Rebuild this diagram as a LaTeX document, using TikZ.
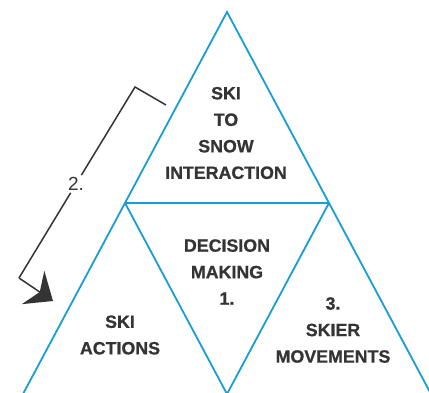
\documentclass[tikz,border=0pt]{standalone}
\usepackage{fontspec}
\setmainfont{Liberation Sans}[BoldFeatures={FakeBold=0.8}]
\usetikzlibrary{arrows.meta}

\definecolor{lineblue}{RGB}{25,157,212}
\definecolor{textgrey}{RGB}{52,52,52}

\tikzset{
  edge/.style={draw=lineblue,line width=1.8pt},
  bracket/.style={draw=textgrey,line width=1.5pt},
  label/.style={align=center,text=textgrey,font=\bfseries\fontsize{17.8}{26.5}\selectfont,inner sep=0pt}
}

\begin{document}
\begin{tikzpicture}[x=1pt,y=-1pt]
\useasboundingbox (0,0) rectangle (429,393);
\clip (0,0) rectangle (429,393);

\coordinate (apex) at (227,12);
\coordinate (midl) at (125,203);
\coordinate (midr) at (329,203);
\coordinate (botl) at (23,394);
\coordinate (botm) at (227,394);
\coordinate (botr) at (431,394);

\draw[edge] (botl) -- (apex) -- (botr);
\draw[edge] (midl) -- (midr);
\draw[edge] (midl) -- (botm) -- (midr);

\node[label] (snow) at (226,133) {SKI\\TO\\SNOW\\INTERACTION};
\node[label] (decide) at (227,272) {DECISION\\MAKING\\1.};
\node[label] (move) at (333,330) {3.\\SKIER\\MOVEMENTS};
\node[label] (act) at (120,335) {SKI\\ACTIONS};

\coordinate (brA) at (166,105);
\coordinate (brB) at (135,87);
\coordinate (brC) at (19,278);
\coordinate (brD) at (53,301);
\node[text=textgrey,font=\fontsize{19}{22}\selectfont,inner sep=2pt] (two) at (76,184) {2.};

\draw[bracket] (brA) -- (brB) -- (two) -- (brC);
\draw[bracket,-{Stealth[length=24pt,width=40pt,inset=8pt]}] (brC) -- (brD);

\end{tikzpicture}
\end{document}
